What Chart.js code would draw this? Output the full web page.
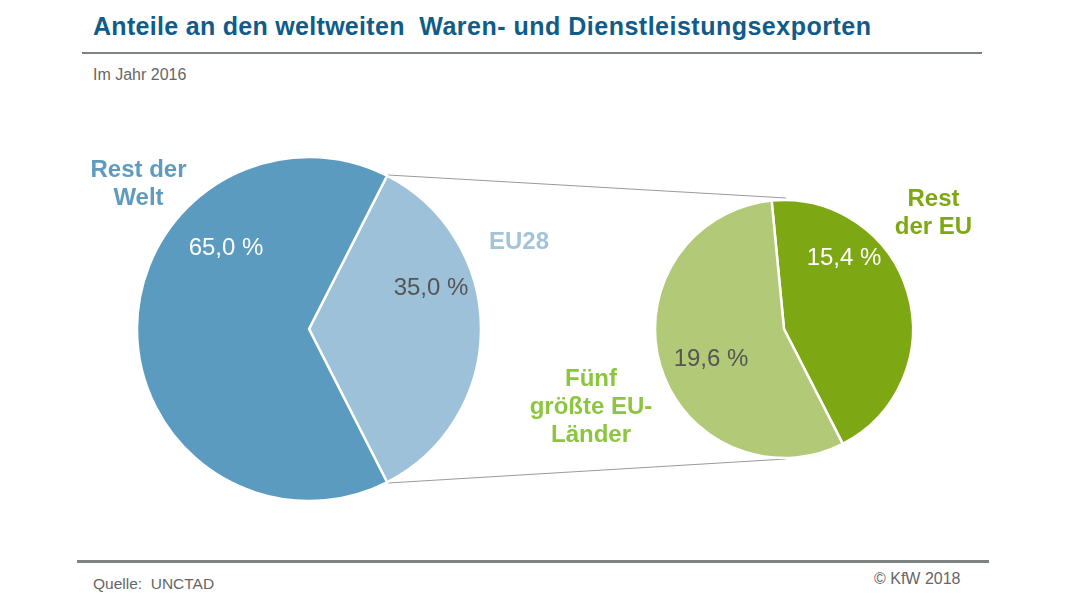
<!DOCTYPE html>
<html lang="de">
<head>
<meta charset="utf-8">
<title>Anteile an den weltweiten Waren- und Dienstleistungsexporten</title>
<script src="https://cdn.jsdelivr.net/npm/chart.js@4"></script>
<style>
    html, body { margin: 0; padding: 0; background: #fff; }
    #page { position: relative; width: 1080px; height: 608px; overflow: hidden; font-family: "Liberation Sans", Arial, sans-serif; }
    #page div { position: absolute; white-space: pre; }
    #page canvas { position: absolute; }
    .rule { background: #7f8282; }
    .note { color: #666; font-size: 15.5px; }
    .pct { font-size: 24px; line-height: 26px; transform: translateX(-50%); }
    .name { font-size: 24px; line-height: 28px; font-weight: bold; text-align: center; transform: translateX(-50%); }
</style>
</head>
<body>
<div id="page">
    <div id="title" style="left:93px; top:11px; font-size:25px; line-height:30px; font-weight:bold; color:#0f5c8a; letter-spacing:0.3px;">Anteile an den weltweiten  <span style="letter-spacing:0.5px;">Waren- und Dienstleistungsexporten</span></div>
    <div class="rule" style="left:82px; top:52px; width:900px; height:2px;"></div>
    <div class="note" style="left:93px; top:66px; font-size:16px;">Im Jahr 2016</div>

    <svg style="position:absolute; left:0; top:0;" width="1080" height="608">
        <line x1="388" y1="175" x2="786" y2="198" stroke="#9a9a9e" stroke-width="1"></line>
        <line x1="388" y1="483" x2="786" y2="459" stroke="#9a9a9e" stroke-width="1"></line>
    </svg>

    <canvas id="world-pie" style="left:129px; top:148.5px; width:360px; height:360px;"></canvas>
    <canvas id="eu-pie" style="left:644px; top:188.5px; width:280px; height:280px;"></canvas>

    <div class="name" id="name-0" style="left:138.5px; top:155px; color:#5e9bbf;"></div>
    <div class="name" id="name-1" style="left:519px; top:227px; color:#a3c3d9;"></div>
    <div class="name" id="name-2" style="left:933.5px; top:184px; color:#7ea813;"></div>
    <div class="name" id="name-3" style="left:591px; top:364px; color:#8cc63f;"></div>

    <div class="pct" id="pct-0" style="left:226px; top:234px; color:#fff;"></div>
    <div class="pct" id="pct-1" style="left:431px; top:274px; color:#555;"></div>
    <div class="pct" id="pct-2" style="left:844px; top:244px; color:#fff;"></div>
    <div class="pct" id="pct-3" style="left:711px; top:345px; color:#555;"></div>

    <div class="rule" style="left:77px; top:560px; width:912px; height:3px;"></div>
    <div class="note" style="left:93px; top:575px;">Quelle:  UNCTAD</div>
    <div class="note" style="left:874px; top:570px; font-size:16px;">© KfW 2018</div>
</div>

<script>
const world_categories = ['EU28', 'Rest der\nWelt'];
const world_values = [35.0, 65.0];
const world_colors = ['#9dc1d9', '#5b9bbf'];

const eu_categories = ['Rest\nder EU', 'Fünf\ngrößte EU-\nLänder'];
const eu_values = [15.4, 19.6];
const eu_colors = ['#7ea813', '#b2c977'];

const format_pct = value => value.toFixed(1).replace('.', ',') + ' %';

const make_pie = (id, labels, values, colors, rotation, radius) => new Chart(document.getElementById(id), {
    type: 'pie',
    data: {
        labels: labels,
        datasets: [{
            data: values,
            backgroundColor: colors,
            borderColor: '#fff',
            borderWidth: 2.5,
        }],
    },
    options: {
        responsive: false,
        animation: false,
        rotation: rotation,
        radius: radius,
        plugins: {
            legend: { display: false },
            tooltip: { enabled: false },
        },
    },
});

for (const id of ['world-pie', 'eu-pie']) {
    const canvas = document.getElementById(id);
    canvas.width = canvas.height = parseInt(canvas.style.width);
}
make_pie('world-pie', world_categories, world_values, world_colors, 27, 172);
make_pie('eu-pie', eu_categories, eu_values, eu_colors, -5.5, 129);

// names and percentages are placed by hand, like in the original slide
document.getElementById('name-0').textContent = world_categories[1];
document.getElementById('name-1').textContent = world_categories[0];
document.getElementById('name-2').textContent = eu_categories[0];
document.getElementById('name-3').textContent = eu_categories[1];
document.getElementById('pct-0').textContent = format_pct(world_values[1]);
document.getElementById('pct-1').textContent = format_pct(world_values[0]);
document.getElementById('pct-2').textContent = format_pct(eu_values[0]);
document.getElementById('pct-3').textContent = format_pct(eu_values[1]);
</script>
</body>
</html>
